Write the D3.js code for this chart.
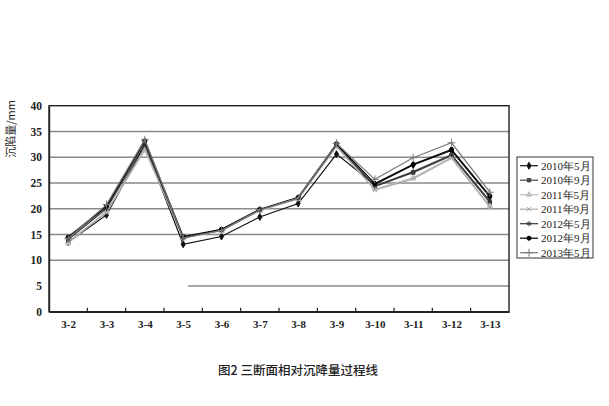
<!DOCTYPE html>
<html><head><meta charset="utf-8">
<script src="https://cdn.jsdelivr.net/npm/d3@7/dist/d3.min.js"></script>
<style>body{margin:0;background:#fff}svg{display:block}</style>
</head><body><svg id="c" width="609" height="406"></svg>
<script>
const categories = ["3-2","3-3","3-4","3-5","3-6","3-7","3-8","3-9","3-10","3-11","3-12","3-13"];
const seriesNames = ["2010年5月","2010年9月","2011年5月","2011年9月","2012年5月","2012年9月","2013年5月"];
const s2010_5 = [13.5,18.8,32.3,13.1,14.6,18.4,21.0,30.6,24.7,28.5,31.3,22.3];
const s2010_9 = [14.3,20.3,33.0,14.3,15.9,19.8,22.0,32.3,24.3,27.0,30.3,21.2];
const s2011_5 = [13.3,19.5,31.3,14.5,15.7,19.6,21.9,32.0,23.8,26.0,30.0,20.5];
const s2011_9 = [13.6,19.2,31.8,14.3,15.8,19.7,22.0,32.2,23.6,25.8,29.8,20.3];
const s2012_5 = [14.0,20.0,32.5,14.4,15.9,19.8,22.1,32.5,24.4,27.2,30.5,21.5];
const s2012_9 = [14.5,20.5,33.2,14.6,16.0,19.9,22.2,32.6,24.9,28.6,31.5,22.5];
const s2013_5 = [14.2,20.8,33.4,14.3,15.8,19.8,22.1,32.7,25.7,29.9,32.8,23.2];
const yTicks = [0,5,10,15,20,25,30,35,40];
const yTitle = "沉陷量/mm";
const caption = "图2 三断面相对沉降量过程线";

const allSeries = [s2010_5,s2010_9,s2011_5,s2011_9,s2012_5,s2012_9,s2013_5];
const colors = ["#111","#444","#bdbdbd","#aaa","#333","#000","#777"];
const symStar = d3.symbolAsterisk || d3.symbolCross;
const symX = d3.symbolTimes || d3.symbolCross;
const symPlus = d3.symbolPlus || d3.symbolCross;
const symbols = [d3.symbolDiamond,d3.symbolSquare,d3.symbolTriangle,symX,symStar,d3.symbolCircle,symPlus];
const filled = [true,true,true,false,false,true,false];
const sizes = [14,12,12,14,18,13,22];

const svg = d3.select("#c");
const L=49,R=509,T=105.7,B=311.7;
const x = d3.scalePoint().domain(categories).range([L,R]).padding(0.5);
const y = d3.scaleLinear().domain([0,40]).range([B,T]);
const fontSerif = "'Liberation Serif','DejaVu Serif',serif";

// gridlines
svg.append("g").selectAll("line").data(yTicks.filter(d=>d>0&&d<40)).join("line")
  .attr("x1",d=>d===5? x("3-5")+5:L).attr("x2",R)
  .attr("y1",d=>y(d)).attr("y2",d=>y(d))
  .attr("stroke","#8a8a8a").attr("stroke-width",1.4);

// plot border
svg.append("rect").attr("x",L).attr("y",T).attr("width",R-L).attr("height",B-T)
  .attr("fill","none").attr("stroke","#222").attr("stroke-width",1.4);

// y axis
const yAxis = d3.axisLeft(y).tickValues(yTicks).tickSize(0).tickPadding(7);
const gy = svg.append("g").attr("transform",`translate(${L},0)`).call(yAxis);
gy.select(".domain").attr("stroke","#222").attr("stroke-width",1.4);
gy.selectAll("text").attr("font-family",fontSerif).attr("font-size",11.5).attr("font-weight","bold").attr("fill","#222");

// x axis
const xAxis = d3.axisBottom(x).tickSize(0).tickPadding(9);
const gx = svg.append("g").attr("transform",`translate(0,${B})`).call(xAxis);
gx.select(".domain").attr("stroke","#222").attr("stroke-width",1.4);
gx.selectAll("text").attr("font-family",fontSerif).attr("font-size",11).attr("font-weight","bold").attr("fill","#222");
// inside ticks at category boundaries
const step = x.step();
svg.append("g").selectAll("line").data(categories.slice(1)).join("line")
  .attr("x1",d=>x(d)-step/2).attr("x2",d=>x(d)-step/2)
  .attr("y1",B).attr("y2",B-4).attr("stroke","#222").attr("stroke-width",1.2);

// y title
svg.append("text").attr("transform",`translate(15,129) rotate(-90)`)
  .attr("text-anchor","middle").attr("font-family","'Noto Sans CJK SC',sans-serif")
  .attr("font-size",11).attr("fill","#222").text(yTitle);

// series
const line = d3.line().x((d,i)=>x(categories[i])).y(d=>y(d));
allSeries.forEach((s,k)=>{
  const g = svg.append("g");
  g.append("path").attr("d",line(s)).attr("fill","none").attr("stroke",colors[k]).attr("stroke-width",1.2);
  g.selectAll("path.m").data(s).join("path").attr("class","m")
    .attr("transform",(d,i)=>`translate(${x(categories[i])},${y(d)})`)
    .attr("d",d3.symbol().type(symbols[k]).size(sizes[k]))
    .attr("fill",filled[k]?colors[k]:"none").attr("stroke",colors[k]).attr("stroke-width",1);
});

// legend
const lg = svg.append("g");
lg.append("rect").attr("x",517).attr("y",157).attr("width",76).attr("height",101)
  .attr("fill","#fff").attr("stroke","#333").attr("stroke-width",1);
seriesNames.forEach((n,k)=>{
  const cy = 165.7 + k*14.5;
  lg.append("line").attr("x1",520).attr("x2",538).attr("y1",cy).attr("y2",cy)
    .attr("stroke",colors[k]).attr("stroke-width",1.2);
  lg.append("path").attr("transform",`translate(529,${cy})`)
    .attr("d",d3.symbol().type(symbols[k]).size(sizes[k]))
    .attr("fill",filled[k]?colors[k]:"none").attr("stroke",colors[k]).attr("stroke-width",1);
  lg.append("text").attr("x",541).attr("y",cy).attr("dy","0.35em")
    .attr("font-family",fontSerif).attr("font-size",11).attr("fill","#222").text(n);
});

// caption
svg.append("text").attr("x",298).attr("y",371).attr("dy","0.35em").attr("text-anchor","middle")
  .attr("font-family","'Noto Sans CJK SC',sans-serif").attr("font-size",12.5).attr("font-weight","500").attr("fill","#222").text(caption);
</script></body></html>
